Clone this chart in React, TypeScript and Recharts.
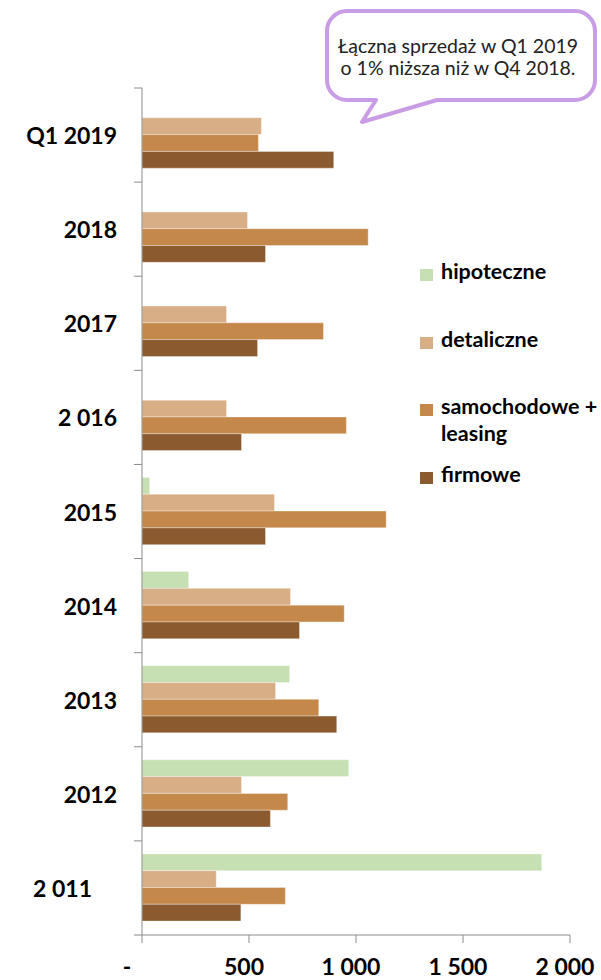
import React from 'react';
import { BarChart, Bar, XAxis, YAxis, Legend } from 'recharts';

const categories = ['Q1 2019', '2018', '2017', '2 016', '2015', '2014', '2013', '2012', '2 011'];
const hipoteczne = [null, null, null, null, 36, 218, 690, 966, 1868];
const detaliczne = [558, 493, 395, 395, 619, 694, 624, 465, 347];
const samochodowe = [544, 1057, 848, 955, 1141, 945, 826, 681, 670];
const firmowe = [896, 577, 540, 465, 577, 736, 910, 600, 462];

const xTicks = [0, 500, 1000, 1500, 2000];
const xTickLabels = ['-', '500', '1 000', '1 500', '2 000'];

const seriesKeys = ['hipoteczne', 'detaliczne', 'samochodowe', 'firmowe'];
const seriesNames = ['hipoteczne', 'detaliczne', 'samochodowe + leasing', 'firmowe'];
const seriesColors = ['#c6e0b4', '#d8ae86', '#c4884a', '#8b5a2e'];

const calloutLines = ['Łączna sprzedaż w Q1 2019', 'o 1% niższa niż w Q4 2018.'];

const data = categories.map((c, i) => ({
  category: c,
  hipoteczne: hipoteczne[i],
  detaliczne: detaliczne[i],
  samochodowe: samochodowe[i],
  firmowe: firmowe[i],
}));

const FONT = 'Lato, "Open Sans", sans-serif';
const AXIS = '#8c8c8c';

const YTick = (props: any) => {
  const { x, y, payload, index } = props;
  const half = payload && typeof payload.offset === 'number' && payload.offset > 0 ? payload.offset : 47;
  const label = payload.value;
  const dx = label === '2 011' ? -42 : -17;
  const isLast = index === categories.length - 1;
  return (
    <g>
      <line x1={x} x2={x + 8} y1={y - half} y2={y - half} stroke={AXIS} strokeWidth={1} />
      {isLast && <line x1={x} x2={x + 8} y1={y + half} y2={y + half} stroke={AXIS} strokeWidth={1} />}
      <text x={x + dx} y={y} textAnchor="end" dominantBaseline="central"
        fontFamily={FONT} fontWeight={700} fontSize={23} fill="#000">
        {label}
      </text>
    </g>
  );
};

const XTick = (props: any) => {
  const { x, y, payload } = props;
  const idx = xTicks.indexOf(payload.value);
  const label = xTickLabels[idx];
  const dx = payload.value === 0 ? -15 : -5;
  return (
    <text x={x + dx} y={y + 32} textAnchor="middle"
      fontFamily={FONT} fontWeight={700} fontSize={23} fill="#000">
      {label}
    </text>
  );
};

const renderLegend = () => (
  <div style={{ position: 'relative', width: 180, height: 240, fontFamily: FONT, fontWeight: 700, fontSize: 21.5, color: '#000' }}>
    {seriesNames.map((n, i) => (
      <div key={n} style={{ position: 'absolute', left: 0, top: i * 67.5, width: 180, height: 60 }}>
        <div style={{ position: 'absolute', left: 0, top: 11, width: 13, height: 12, background: seriesColors[i] }} />
        <div style={{ position: 'absolute', left: 21, top: 0, width: 160, lineHeight: '27px', whiteSpace: 'normal' }}>{n}</div>
      </div>
    ))}
  </div>
);

export default function App() {
  return (
    <div style={{ position: 'absolute', left: 0, top: 0, width: 601, height: 980, background: '#fff' }}>
      <BarChart
        width={601}
        height={980}
        data={data}
        layout="vertical"
        margin={{ top: 88, right: 31, bottom: 0, left: 0 }}
        barGap={0}
        barSize={16.8}
      >
        <XAxis
          type="number"
          domain={[0, 2000]}
          ticks={xTicks}
          height={45}
          tickSize={8}
          tickMargin={0}
          axisLine={{ stroke: AXIS }}
          tickLine={{ stroke: AXIS }}
          tick={<XTick />}
          interval={0}
        />
        <YAxis
          type="category"
          dataKey="category"
          width={142}
          tickSize={8}
          tickMargin={0}
          tickLine={false}
          axisLine={{ stroke: AXIS }}
          tick={<YTick />}
          interval={0}
        />
        {seriesKeys.map((k, i) => (
          <Bar key={k} dataKey={k} name={seriesNames[i]} fill={seriesColors[i]}
            stroke="#ffffff" strokeOpacity={0.35} strokeWidth={1} isAnimationActive={false} />
        ))}
        <Legend
          layout="horizontal"
          align="center"
          verticalAlign="middle"
          content={renderLegend}
          wrapperStyle={{ position: 'absolute', left: 420, top: 258, width: 180, height: 240 }}
        />
      </BarChart>
      <svg width={601} height={140} style={{ position: 'absolute', left: 0, top: 0, pointerEvents: 'none' }}>
        <path
          d="M 347 11 H 575 A 20 20 0 0 1 595 31 V 80 A 20 20 0 0 1 575 100 H 437 L 362 122 L 376 100 H 347 A 20 20 0 0 1 327 80 V 31 A 20 20 0 0 1 347 11 Z"
          fill="#ffffff"
          stroke="#c99ce6"
          strokeWidth={4}
          strokeLinejoin="round"
        />
        {calloutLines.map((t, i) => (
          <text key={i} x={458} y={53 + i * 22} textAnchor="middle" fontFamily={FONT} fontSize={19.5} fill="#222">
            {t}
          </text>
        ))}
      </svg>
    </div>
  );
}
